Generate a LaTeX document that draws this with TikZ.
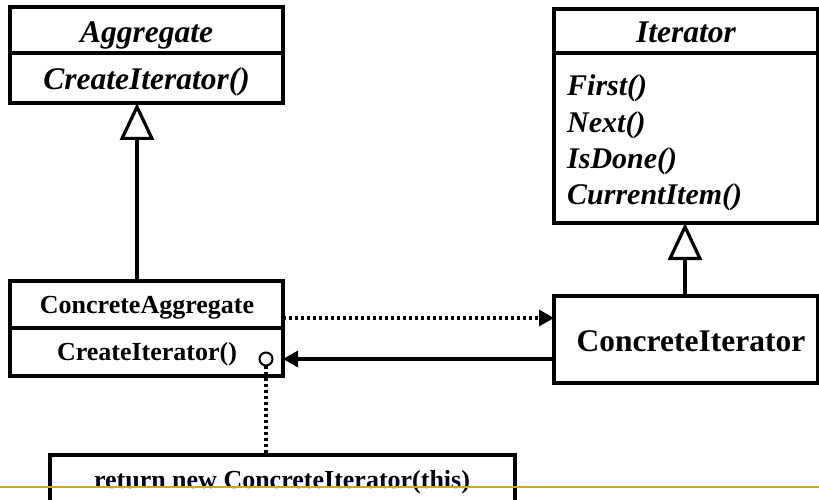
\documentclass[tikz,border=0pt]{standalone}
\usepackage{fontspec}
\setmainfont{Liberation Serif}
\usetikzlibrary{arrows.meta}
\definecolor{rulegold}{RGB}{218,160,30}
\tikzset{
  umlbox/.style={draw, line width=3.2pt, inner sep=0pt, outer sep=0pt},
  divider/.style={line width=3.2pt},
  titleit/.style={font=\bfseries\itshape\fontsize{31.5}{36}\selectfont, anchor=base, inner sep=0pt},
  opit/.style={font=\bfseries\itshape\fontsize{30}{36}\selectfont, anchor=base west, inner sep=0pt},
  titlebf/.style={font=\bfseries\fontsize{26}{30}\selectfont, anchor=base, inner sep=0pt},
  bigbf/.style={font=\bfseries\fontsize{31.5}{36}\selectfont, anchor=base, inner sep=0pt},
  inherit/.style={line width=3.2pt, -{Triangle[open, length=37pt, width=34pt]}},
  dependency/.style={line width=3.2pt, dash pattern=on 3pt off 3pt, -{Triangle[length=15pt, width=16pt]}},
  association/.style={line width=3.2pt, -{Triangle[length=15pt, width=16pt]}},
  notelink/.style={line width=3.2pt, dash pattern=on 3pt off 3pt},
  pin/.style={circle, draw, line width=2pt, minimum size=13pt, inner sep=0pt, outer sep=0pt, fill=white},
}
\begin{document}
\begin{tikzpicture}[x=1pt, y=-1pt]
  \useasboundingbox (0,0) rectangle (819,500);

  % Aggregate (abstract)
  \node[umlbox, minimum width=273pt, minimum height=96pt] (agg) at (146.5,55) {};
  \draw[divider] (agg.west |- 0,53) -- (agg.east |- 0,53);
  \node[titleit] (aggname) at (146.5,43) {Aggregate};
  \node[titleit] (aggop) at (146.5,90) {CreateIterator()};

  % Iterator (abstract)
  \node[umlbox, minimum width=264pt, minimum height=214pt] (iter) at (686,116) {};
  \draw[divider] (iter.west |- 0,53) -- (iter.east |- 0,53);
  \node[titleit] (itername) at (686,43) {Iterator};
  \node[opit] (opfirst) at (567,96) {First()};
  \node[opit] (opnext) at (567,132) {Next()};
  \node[opit] (opdone) at (567,168) {IsDone()};
  \node[opit] (opcur) at (567,204) {CurrentItem()};

  % ConcreteAggregate
  \node[umlbox, minimum width=273pt, minimum height=95pt] (cagg) at (146.5,328.5) {};
  \draw[divider] (cagg.west |- 0,328) -- (cagg.east |- 0,328);
  \node[titlebf] (caggname) at (147,313) {ConcreteAggregate};
  \node[titlebf] (caggop) at (147,360) {CreateIterator()};
  \node[pin] (dot) at (266,359) {};

  % ConcreteIterator
  \node[umlbox, minimum width=264pt, minimum height=87pt] (citer) at (686,339.5) {};
  \node[bigbf] (citername) at (691,351) {ConcreteIterator};

  % Implementation note
  \node[umlbox, minimum width=465pt, minimum height=60pt] (note) at (282.5,485) {};
  \node[titlebf] (notetext) at (282,488) {return new ConcreteIterator(this)};

  % Generalisations
  \draw[inherit] ([xshift=-9.5pt]cagg.north) -- ([xshift=-9.5pt]agg.south);
  \draw[inherit] ([xshift=-1pt]citer.north) -- ([xshift=-1pt]iter.south);

  % Creation dependency and back reference
  \draw[dependency] ([yshift=10.5pt]cagg.east) -- ([yshift=10.5pt]cagg.east -| citer.west);
  \draw[association] ([yshift=-30.5pt]cagg.east -| citer.west) -- ([yshift=-30.5pt]cagg.east);

  % Note attachment
  \draw[notelink] (dot.south) -- (dot.south |- note.north);

  % Slide rule
  \coordinate (ruleL) at (0,487);
  \coordinate (ruleR) at (819,487);
  \draw[rulegold, line width=2pt] (ruleL) -- (ruleR);
\end{tikzpicture}
\end{document}
